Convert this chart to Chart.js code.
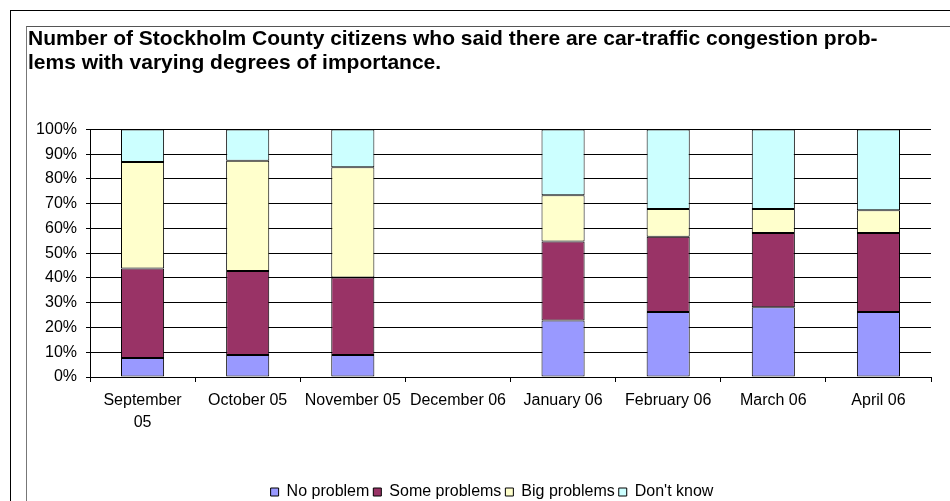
<!DOCTYPE html>
<html>
<head>
<meta charset="utf-8">
<script src="https://cdn.jsdelivr.net/npm/chart.js@4/dist/chart.umd.min.js"></script>
<style>
  html, body { margin: 0; padding: 0; background: #fff; overflow: hidden; width: 950px; height: 501px; }
  #wrap { position: relative; width: 950px; height: 501px; overflow: hidden; }
  #outer { position: absolute; left: 10px; top: 10px; width: 2000px; height: 2000px; border-left: 1px solid #000; border-top: 1px solid #000; }
  #inner { position: absolute; left: 26px; top: 26px; width: 2000px; height: 2000px; border-left: 1px solid #777; border-top: 1px solid #555; }
  canvas { position: absolute; left: 0; top: 0; }
</style>
</head>
<body>
<div id="wrap">
  <div id="outer"></div>
  <div id="inner"></div>
  <canvas id="c" width="975" height="510"></canvas>
</div>
<script>
const titleLines = [
  'Number of Stockholm County citizens who said there are car-traffic congestion prob-',
  'lems with varying degrees of importance.'
];
const categories = [['September', '05'], 'October 05', 'November 05', 'December 06', 'January 06', 'February 06', 'March 06', 'April 06'];
const noProblem    = [7.7, 8.9, 8.9, null, 22.8, 26.3, 28.2, 26.3];
const someProblems = [36.1, 33.9, 31.3, null, 31.9, 30.3, 30.0, 31.9];
const bigProblems  = [43.0, 44.5, 44.5, null, 18.7, 11.3, 9.7, 9.1];
const dontKnow     = [13.2, 12.7, 15.3, null, 26.6, 32.1, 32.1, 32.7];
const seriesNames  = ['No problem', 'Some problems', 'Big problems', "Don't know"];
const seriesColors = ['#9999FF', '#993366', '#FFFFCC', '#CCFFFF'];

const FONT = 'Arial, "Liberation Sans", sans-serif';
const values = [noProblem, someProblems, bigProblems, dontKnow];

new Chart(document.getElementById('c'), {
  type: 'bar',
  data: {
    labels: categories,
    datasets: values.map((v, i) => ({
      label: seriesNames[i],
      data: v,
      backgroundColor: seriesColors[i],
      borderColor: '#000',
      borderWidth: 1,
      borderSkipped: false,
      categoryPercentage: 1,
      barPercentage: 0.41
    }))
  },
  options: {
    responsive: false,
    animation: false,
    layout: { padding: { left: 28, right: 19, top: 0, bottom: 0 } },
    plugins: {
      title: {
        display: true,
        text: titleLines,
        align: 'start',
        color: '#000',
        font: { family: FONT, size: 21, weight: 'bold', lineHeight: 1.15 },
        padding: { top: 27.3, bottom: 53.8 }
      },
      legend: {
        position: 'bottom',
        labels: {
          color: '#000',
          font: { family: FONT, size: 16 },
          boxWidth: 8,
          boxHeight: 8,
          padding: 4,
          generateLabels: (chart) => chart.data.datasets.map((ds, i) => ({
            text: ds.label,
            fillStyle: ds.backgroundColor,
            strokeStyle: '#000',
            lineWidth: 1,
            hidden: false,
            datasetIndex: i,
            fontColor: '#000'
          }))
        }
      },
      tooltip: { enabled: false }
    },
    scales: {
      x: {
        stacked: true,
        offset: true,
        grid: { display: true, drawOnChartArea: false, drawTicks: true, tickLength: 5, color: '#000', offset: true },
        border: { display: true, color: '#000', width: 1 },
        ticks: { color: '#000', font: { family: FONT, size: 16, lineHeight: 1.35 }, padding: 8, maxRotation: 0, autoSkip: false },
        afterFit: (s) => { s.height = 103; }
      },
      y: {
        stacked: true,
        min: 0,
        max: 100,
        grid: { color: '#000', lineWidth: 1, tickLength: 4 },
        border: { display: true, color: '#000', width: 1 },
        ticks: { stepSize: 10, color: '#000', font: { family: FONT, size: 16 }, padding: 9, callback: (v) => v + '%' },
        afterFit: (s) => { s.width = 62; }
      },
      yRightSpacer: {
        type: 'linear',
        position: 'right',
        display: true,
        grid: { display: false },
        border: { display: false },
        ticks: { display: false },
        afterFit: (s) => { s.width = 25; }
      }
    }
  }
});
</script>
</body>
</html>
